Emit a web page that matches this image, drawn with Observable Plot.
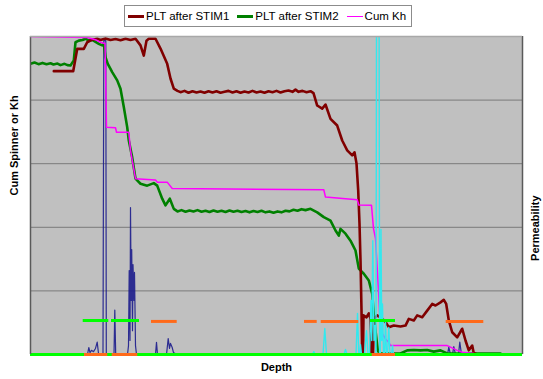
<!DOCTYPE html>
<html>
<head>
<meta charset="utf-8">
<script src="https://cdn.jsdelivr.net/npm/d3@7"></script>
<script src="https://cdn.jsdelivr.net/npm/@observablehq/plot@0.6"></script>
<style>
  html, body { margin: 0; padding: 0; background: #fff; }
  #wrap { position: relative; width: 543px; height: 379px; font-family: Arial, "Liberation Sans", sans-serif; }
  #legend { position: absolute; left: 124px; top: 5px; width: 288px; height: 22px; border: 1px solid #8c8c8c; background: #fff;
    display: flex; align-items: center; font-size: 11.5px; color: #000; box-sizing: border-box; padding-left: 3px; }
  .item { display: flex; align-items: center; margin-right: 8px; white-space: nowrap; }
  .sw { display: inline-block; width: 16px; height: 0; margin-right: 2px; }
</style>
</head>
<body>
<div id="wrap">
  <div id="chart"></div>
  <div id="legend"></div>
</div>
<script>
// Depth (relative units 0..492), values in % of left axis (0..100)
const stim1 = [[23.3,89.1],[42.7,89.1],[46.7,96.1],[53.3,96.1],[56.7,98.2],[61.7,99.0],[66.7,99.3],[70,98.9],[75,99.4],[80,98.9],[85,99.2],[90,98.8],[95,99.3],[100,98.9],[105,99.3],[110,97.2],[113.3,94.0],[116,98.7],[118.3,99.3],[125,99.3],[130,96.2],[136.7,91.4],[140,86.8],[143.3,83.6],[147,82.9],[150,82.5],[154,82.9],[158,82.3],[162,82.8],[166,82.4],[170,82.7],[174,82.3],[178,82.8],[182,82.4],[186,82.8],[190,82.3],[194,82.6],[198,82.9],[202,82.4],[206,82.8],[210,82.3],[214,82.7],[218,82.4],[222,82.9],[226,82.4],[230,82.7],[234,82.3],[238,82.8],[242,82.5],[246,82.9],[250,82.4],[254,82.8],[258,83.0],[262,82.6],[265,83.3],[268,82.6],[272,82.9],[276,82.5],[280,82.8],[283,82.2],[286.7,78.3],[291.7,77.3],[295,78.6],[300,74.1],[306.7,72.0],[311.7,67.3],[316.7,64.2],[321.7,62.6],[324,63.6],[326,60.1],[327.7,51.6],[329,41.2],[330,29.6],[331,13.8],[331.7,0.3],[332.5,0.3],[333,12.3],[336,11.7],[338.3,12.9],[340,11.3],[341,0.3],[342.5,0.3],[343.5,11.3],[346.7,12.3],[350,11.7],[355,10.2],[358.3,8.6],[363.3,9.1],[370,8.8],[375,9.1],[378.3,11.2],[383.3,10.7],[386.7,12.3],[391.7,11.7],[396.7,13.8],[401.7,15.9],[405,15.4],[410,16.4],[413.3,17.2],[415.7,15.9],[418.3,10.7],[421.7,7.0],[426.7,5.4],[431.7,8.1],[435,4.4],[438.3,1.3],[441.7,2.8],[443.3,0.3],[445,0.3]];

const stim2 = [[0,91.4],[4,91.8],[8,91.3],[12,91.7],[16,91.3],[20,91.6],[23,91.2],[27,91.5],[30,91.0],[34,91.4],[37,91.0],[40,90.9],[43.3,92.5],[45,98.2],[48.3,98.7],[52,98.9],[55,99.3],[58,98.8],[61.7,98.9],[65,98.3],[68.3,97.7],[71.7,97.2],[73.3,97.7],[75,93.5],[77.3,91.4],[81.7,88.8],[86.7,86.2],[90,83.6],[93.3,77.8],[96.7,71.5],[98.3,67.3],[101.7,62.0],[105,55.3],[110,53.7],[116.7,53.1],[123.3,53.9],[126.7,53.1],[131.7,49.0],[135,46.9],[139.3,49.0],[143.3,45.8],[147,45.0],[151,45.4],[155,44.9],[159,45.3],[163,45.0],[167,45.4],[171,44.9],[175,45.2],[179,44.8],[183,45.3],[187,44.9],[191,45.2],[195,44.8],[199,45.3],[203,44.9],[207,45.2],[211,44.8],[215,45.1],[219,44.7],[223,45.1],[227,44.8],[231,45.2],[235,44.7],[239,45.0],[243,44.6],[247,45.0],[251,44.7],[255,45.2],[259,45.0],[263,45.5],[267,45.2],[271,45.7],[275,45.4],[280,45.8],[286.7,44.7],[293.3,43.2],[300,42.1],[305,39.0],[308.3,37.4],[310,39.5],[315,38.0],[320,35.8],[325,32.7],[328.3,27.0],[333.3,25.4],[338.3,23.3],[341.7,19.1],[343.3,12.3],[345,7.5],[347.3,1.3],[349,0.3],[370,0.3],[376.7,1.3],[383.3,1.4],[390,1.3],[396.7,1.4],[403.3,0.9],[410,1.3],[416.7,0.3],[470,0.3]];

const cumKh = [[0,100],[56.7,99.7],[65,99.0],[70,98.2],[73.3,97.9],[74.5,97.9],[76,71.5],[85,71.3],[86,69.9],[98.3,69.9],[100,64.2],[105,55.3],[125,54.9],[126.7,54.2],[136.7,54.2],[141.7,52.2],[170,52.1],[293.3,51.8],[295,49.5],[326.7,48.7],[328.3,47.0],[341,46.9],[343,39.6],[345,36.5],[348,20.1],[350,7.5],[355,4.9],[358.3,3.8],[360,2.8],[416.7,2.8],[420,2.3],[426.7,1.3],[431.7,0.7],[443.3,0.3]];

const permA = [[54,0],[57,0],[58.3,2.2],[59.5,0.6],[61,1.3],[63,0.9],[65,1.9],[66.7,3.9],[68,0.3],[72.5,0],[73.3,98.7],[75.3,98.7],[75.8,0],[83.5,0],[84.3,14.0],[85.2,0],[97,0],[98,2.8],[98.7,26.4],[99.5,4.4],[100,46.2],[100.7,17.0],[101.2,33.0],[102,7.5],[102.5,28.3],[103.5,17.0],[104,25.8],[105,2.8],[106,0],[125,0],[126,3.8],[127,0],[136,0],[137.7,5.0],[139,1.9],[140,3.5],[141.7,2.2],[143,0.6],[146,0],[417,0],[418.3,2.3],[420,0],[422,0],[423.3,2.5],[425,0],[428,0],[429.3,3.9],[431,0]];

const permB = [[282,0],[283.3,0.9],[284.5,0],[292.5,0],[294.3,8.2],[296,0],[313.5,0],[315,1.6],[316.5,0],[325.5,0],[327,12.9],[328.3,0],[329.3,0],[330,3.1],[331,0],[334,0],[336,7.5],[337.5,0],[339,0],[340.5,17.0],[341.2,4.4],[342.3,35.8],[343.5,4.4],[344.5,9.1],[345.5,0],[346,105],[348.6,105],[349.1,0],[349.8,0],[350.5,39.3],[351.3,4.4],[352,15.9],[353,0],[354,0],[355,10.7],[356,0],[357,0],[358.3,8.5],[359.5,0],[361,0],[362,2.8],[363,0]];

// interval markers [from, to, level]
const orangeBars = [[54,77.3,0],[81.7,107.3,0],[341.7,365,0],[121,146.7,10.4],[274,286.7,10.4],[290.7,328.3,10.4],[415.7,453.3,10.4]];
const limeBars = [[52.7,78.3,10.7],[81,109,10.7],[340,365,10.7]];
const baseline = [[0,492,0]];
const gridLevels = [20,40,60,80];

const legendItems = [["PLT after STIM1","#800000",3],["PLT after STIM2","#008000",3],["Cum Kh","#FF00FF",1.5]];

const xy = {x: d => d[0], y: d => d[1]};
const seg = {x1: d => d[0], x2: d => d[1], y: d => d[2]};

const chart = Plot.plot({
  width: 543, height: 379,
  marginLeft: 30, marginRight: 21, marginTop: 36, marginBottom: 25,
  style: {fontFamily: "Arial, 'Liberation Sans', sans-serif", background: "transparent"},
  x: {domain: [0, 492], axis: null},
  y: {domain: [0, 100], axis: null},
  marks: [
    Plot.frame({fill: "#C0C0C0"}),
    Plot.ruleY(gridLevels, {stroke: "#7a7a7a", strokeWidth: 1}),
    Plot.line(permA, {...xy, stroke: "#1c1c8c", strokeWidth: 1.2, strokeOpacity: 0.9, clip: true}),
    Plot.line(stim2, {...xy, stroke: "#008000", strokeWidth: 2.6, clip: true}),
    Plot.line(stim1, {...xy, stroke: "#800000", strokeWidth: 2.6, clip: true}),
    Plot.line(cumKh, {...xy, stroke: "#FF00FF", strokeWidth: 1.5, clip: true}),
    Plot.line(permB, {...xy, stroke: "#33E8EE", strokeWidth: 1.4, clip: true}),
    Plot.ruleY(limeBars, {...seg, stroke: "#00FF00", strokeWidth: 3}),
    Plot.ruleY(baseline, {...seg, stroke: "#00FF00", strokeWidth: 3}),
    Plot.ruleY(orangeBars, {...seg, stroke: "#FF6A1A", strokeWidth: 3}),
    Plot.ruleX([0], {stroke: "#5a5a5a", strokeWidth: 1.5}),
    Plot.ruleX([492], {stroke: "#5a5a5a", strokeWidth: 1.5}),
    Plot.ruleY([100], {stroke: "#a8a8a8", strokeWidth: 1.5}),
    Plot.text(["Cum Spinner or Kh"], {frameAnchor: "left", dx: -16, rotate: -90, fontWeight: "bold", fontSize: 11, fill: "#000"}),
    Plot.text(["Permeability"], {frameAnchor: "right", dx: 13, rotate: -90, fontWeight: "bold", fontSize: 11, fill: "#000"}),
    Plot.text(["Depth"], {frameAnchor: "bottom", dy: 16, fontWeight: "bold", fontSize: 11, fill: "#000"})
  ]
});
document.getElementById("chart").appendChild(chart);

const leg = document.getElementById("legend");
for (const [name, color, w] of legendItems) {
  const it = document.createElement("span");
  it.className = "item";
  const sw = document.createElement("span");
  sw.className = "sw";
  sw.style.borderTop = `${w}px solid ${color}`;
  it.appendChild(sw);
  it.appendChild(document.createTextNode(name));
  leg.appendChild(it);
}
</script>
</body>
</html>
